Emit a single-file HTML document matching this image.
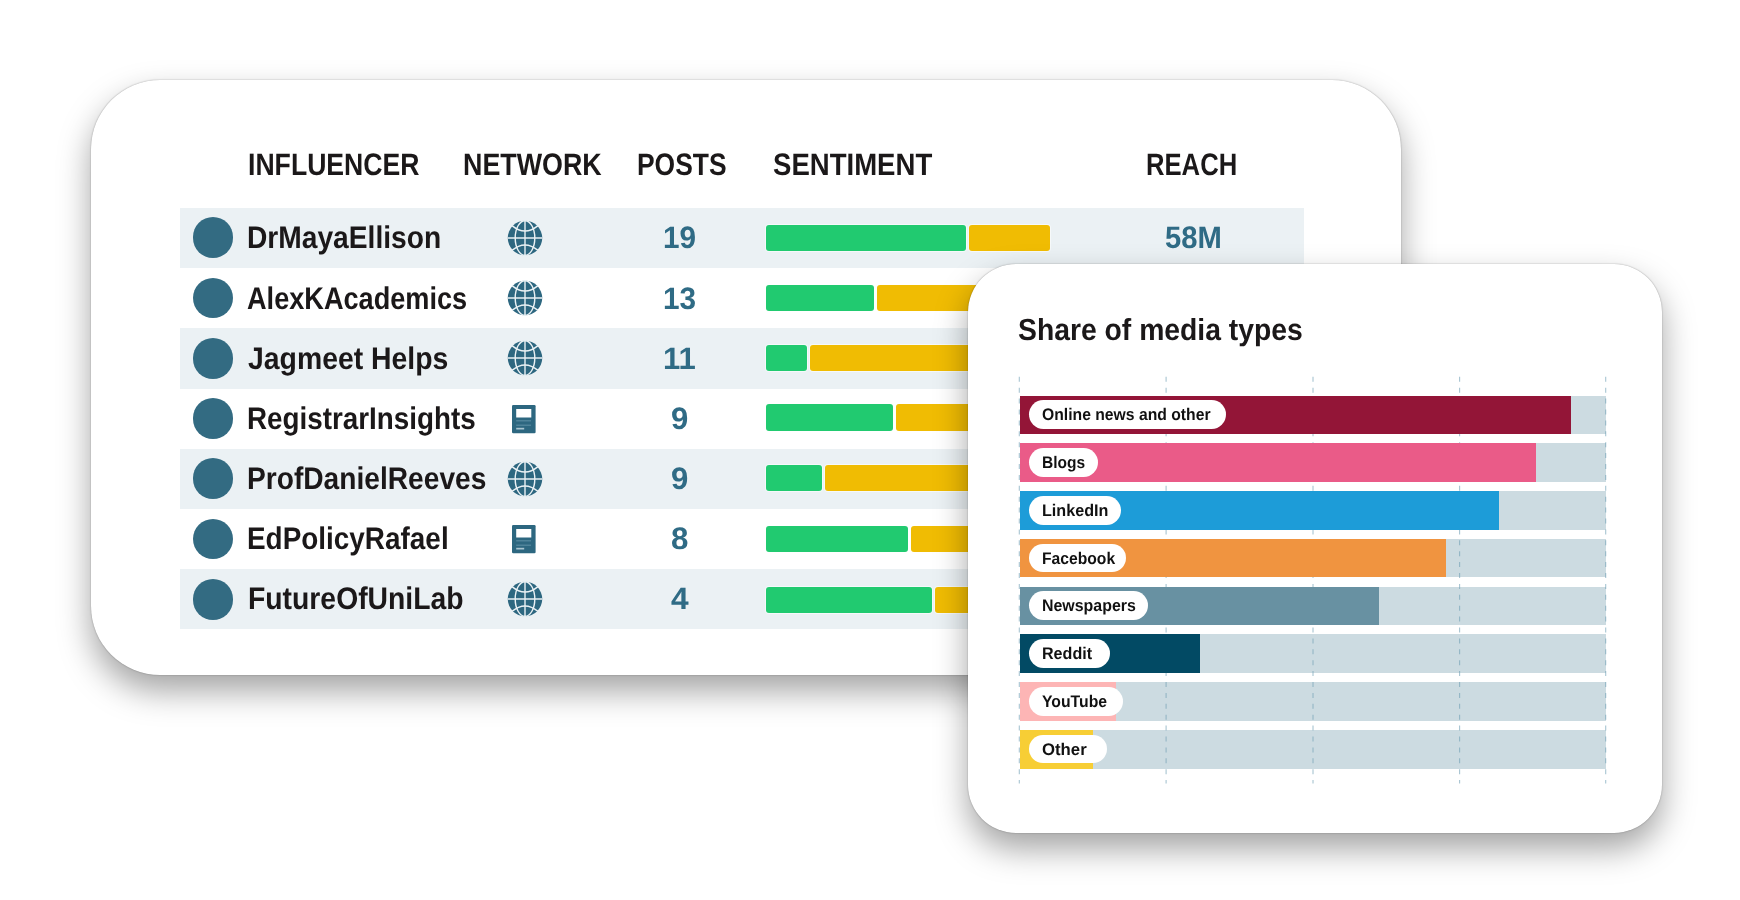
<!DOCTYPE html>
<html lang="en">
<head>
<meta charset="utf-8">
<title>Influencer dashboard</title>
<style>
html,body{margin:0;padding:0;background:#fff;}
body{width:1740px;height:900px;position:relative;overflow:hidden;font-family:"Liberation Sans", sans-serif;}
#txt{position:absolute;left:0;top:0;width:1740px;height:900px;will-change:transform;}
.t{position:absolute;white-space:nowrap;line-height:1;transform-origin:0 0;font-weight:700;text-rendering:geometricPrecision;}
.card{position:absolute;background:#fff;}
#c1{left:90.5px;top:79.9px;width:1310.4px;height:595.6px;border-radius:69px;box-shadow:0 16px 33px rgba(0,0,0,.36),0 0 1.5px rgba(0,0,0,.4);}
#c2{left:968px;top:264px;width:693.7px;height:568.9px;border-radius:48px;box-shadow:0 16px 33px rgba(0,0,0,.36),0 0 1.5px rgba(0,0,0,.4);}
.band{position:absolute;left:179.9px;width:1124.2px;height:60.4px;background:#ebf1f4;}
.dot{position:absolute;width:40.8px;height:40.8px;border-radius:50%;background:#336b82;left:192.7px;}
.sg,.sy{position:absolute;height:26.2px;border-radius:3px;box-shadow:0 0 0 1px rgba(255,255,255,.55);}
.sg{background:#21ca70;}.sy{background:#f0bc03;}
.track{position:absolute;left:1019.5px;width:586px;background:#ccdbe1;}
.bar{position:absolute;left:1019.5px;}
.pill{position:absolute;left:1028.8px;height:28.7px;border-radius:14.4px;background:#fff;}
svg{position:absolute;overflow:visible;}
</style>
</head>
<body>
<div class="card" id="c1"></div>
<div class="band" style="top:207.90px"></div>
<div class="band" style="top:328.30px"></div>
<div class="band" style="top:448.90px"></div>
<div class="band" style="top:568.75px"></div>
<div class="dot" style="top:217.1px"></div>
<div class="sg" style="left:766.2px;top:224.7px;width:199.4px"></div>
<div class="sy" style="left:968.8px;top:224.7px;width:80.9px"></div>
<div class="dot" style="top:277.5px"></div>
<div class="sg" style="left:766.2px;top:284.9px;width:107.8px"></div>
<div class="sy" style="left:877.2px;top:284.9px;width:172.5px"></div>
<div class="dot" style="top:337.9px"></div>
<div class="sg" style="left:766.2px;top:344.6px;width:40.5px"></div>
<div class="sy" style="left:809.9px;top:344.6px;width:239.8px"></div>
<div class="dot" style="top:398.1px"></div>
<div class="sg" style="left:766.2px;top:404.4px;width:126.8px"></div>
<div class="sy" style="left:896.2px;top:404.4px;width:153.5px"></div>
<div class="dot" style="top:458.4px"></div>
<div class="sg" style="left:766.2px;top:464.5px;width:55.8px"></div>
<div class="sy" style="left:825.2px;top:464.5px;width:224.5px"></div>
<div class="dot" style="top:518.6px"></div>
<div class="sg" style="left:766.2px;top:525.9px;width:141.8px"></div>
<div class="sy" style="left:911.2px;top:525.9px;width:138.5px"></div>
<div class="dot" style="top:578.8px"></div>
<div class="sg" style="left:766.2px;top:587.1px;width:165.8px"></div>
<div class="sy" style="left:935.2px;top:587.1px;width:114.5px"></div>
<svg width="40" height="40" viewBox="-20 -20 40 40" style="left:504.8px;top:218.0px"><circle r="17.25" fill="#2d6780"/><g fill="none" stroke="#eaf1f4" stroke-width="1.4"><line x1="0" y1="-17.2" x2="0" y2="17.2"/><line x1="-17.2" y1="0" x2="17.2" y2="0"/><ellipse rx="9.8" ry="17.3"/><path d="M-13 -12.4 Q0 -1.6 13 -12.4"/><path d="M-13 12.4 Q0 1.6 13 12.4"/></g></svg>
<svg width="40" height="40" viewBox="-20 -20 40 40" style="left:504.8px;top:278.2px"><circle r="17.25" fill="#2d6780"/><g fill="none" stroke="#eaf1f4" stroke-width="1.4"><line x1="0" y1="-17.2" x2="0" y2="17.2"/><line x1="-17.2" y1="0" x2="17.2" y2="0"/><ellipse rx="9.8" ry="17.3"/><path d="M-13 -12.4 Q0 -1.6 13 -12.4"/><path d="M-13 12.4 Q0 1.6 13 12.4"/></g></svg>
<svg width="40" height="40" viewBox="-20 -20 40 40" style="left:504.8px;top:338.4px"><circle r="17.25" fill="#2d6780"/><g fill="none" stroke="#eaf1f4" stroke-width="1.4"><line x1="0" y1="-17.2" x2="0" y2="17.2"/><line x1="-17.2" y1="0" x2="17.2" y2="0"/><ellipse rx="9.8" ry="17.3"/><path d="M-13 -12.4 Q0 -1.6 13 -12.4"/><path d="M-13 12.4 Q0 1.6 13 12.4"/></g></svg>
<svg width="25" height="30" viewBox="0 0 25 30" style="left:512.0px;top:404.6px"><rect x="0" y="0" width="23.6" height="28.2" rx="1.2" fill="#2d6780"/><rect x="4.2" y="4" width="15.1" height="8.5" fill="#fff"/><rect x="4.2" y="15.2" width="14.8" height="1.2" fill="#588aa0"/><rect x="4.2" y="19.6" width="14.8" height="1.2" fill="#588aa0"/><rect x="4.2" y="22.8" width="8" height="1.7" fill="#a9c4cf"/></svg>
<svg width="40" height="40" viewBox="-20 -20 40 40" style="left:504.8px;top:458.9px"><circle r="17.25" fill="#2d6780"/><g fill="none" stroke="#eaf1f4" stroke-width="1.4"><line x1="0" y1="-17.2" x2="0" y2="17.2"/><line x1="-17.2" y1="0" x2="17.2" y2="0"/><ellipse rx="9.8" ry="17.3"/><path d="M-13 -12.4 Q0 -1.6 13 -12.4"/><path d="M-13 12.4 Q0 1.6 13 12.4"/></g></svg>
<svg width="25" height="30" viewBox="0 0 25 30" style="left:512.0px;top:525.0px"><rect x="0" y="0" width="23.6" height="28.2" rx="1.2" fill="#2d6780"/><rect x="4.2" y="4" width="15.1" height="8.5" fill="#fff"/><rect x="4.2" y="15.2" width="14.8" height="1.2" fill="#588aa0"/><rect x="4.2" y="19.6" width="14.8" height="1.2" fill="#588aa0"/><rect x="4.2" y="22.8" width="8" height="1.7" fill="#a9c4cf"/></svg>
<svg width="40" height="40" viewBox="-20 -20 40 40" style="left:504.8px;top:579.3px"><circle r="17.25" fill="#2d6780"/><g fill="none" stroke="#eaf1f4" stroke-width="1.4"><line x1="0" y1="-17.2" x2="0" y2="17.2"/><line x1="-17.2" y1="0" x2="17.2" y2="0"/><ellipse rx="9.8" ry="17.3"/><path d="M-13 -12.4 Q0 -1.6 13 -12.4"/><path d="M-13 12.4 Q0 1.6 13 12.4"/></g></svg>
<div class="card" id="c2"></div>
<div class="track" style="top:395.5px;height:38.5px"></div>
<div class="track" style="top:443.3px;height:38.5px"></div>
<div class="track" style="top:491.1px;height:38.5px"></div>
<div class="track" style="top:538.8px;height:38.5px"></div>
<div class="track" style="top:586.6px;height:38.5px"></div>
<div class="track" style="top:634.4px;height:38.5px"></div>
<div class="track" style="top:682.2px;height:38.5px"></div>
<div class="track" style="top:730.0px;height:38.5px"></div>
<svg width="1740" height="900" style="left:0;top:0" viewBox="0 0 1740 900">
<line x1="1019.3" y1="376.8" x2="1019.3" y2="783.5" stroke="#6d9db2" stroke-opacity=".6" stroke-width="1.1" stroke-dasharray="5 5.9"/>
<line x1="1166.1" y1="376.8" x2="1166.1" y2="783.5" stroke="#6d9db2" stroke-opacity=".6" stroke-width="1.1" stroke-dasharray="5 5.9"/>
<line x1="1313.0" y1="376.8" x2="1313.0" y2="783.5" stroke="#6d9db2" stroke-opacity=".6" stroke-width="1.1" stroke-dasharray="5 5.9"/>
<line x1="1459.6" y1="376.8" x2="1459.6" y2="783.5" stroke="#6d9db2" stroke-opacity=".6" stroke-width="1.1" stroke-dasharray="5 5.9"/>
<line x1="1605.7" y1="376.8" x2="1605.7" y2="783.5" stroke="#6d9db2" stroke-opacity=".6" stroke-width="1.1" stroke-dasharray="5 5.9"/>
</svg>
<div class="bar" style="top:395.5px;height:38.5px;width:551.8px;background:#931537"></div>
<div class="pill" style="top:400.3px;width:197.5px"></div>
<div class="bar" style="top:443.3px;height:38.5px;width:516.4px;background:#ea5b88"></div>
<div class="pill" style="top:448.1px;width:68.9px"></div>
<div class="bar" style="top:491.1px;height:38.5px;width:479.1px;background:#1d9cd8"></div>
<div class="pill" style="top:495.9px;width:92.3px"></div>
<div class="bar" style="top:538.8px;height:38.5px;width:426.7px;background:#f09440"></div>
<div class="pill" style="top:543.6px;width:97.4px"></div>
<div class="bar" style="top:586.6px;height:38.5px;width:359.6px;background:#6891a2"></div>
<div class="pill" style="top:591.4px;width:119.5px"></div>
<div class="bar" style="top:634.4px;height:38.5px;width:180.1px;background:#024a64"></div>
<div class="pill" style="top:639.2px;width:80.9px"></div>
<div class="bar" style="top:682.2px;height:38.5px;width:96.3px;background:#fdb5b5"></div>
<div class="pill" style="top:687.0px;width:94.5px"></div>
<div class="bar" style="top:730.0px;height:38.5px;width:73.5px;background:#f7ce35"></div>
<div class="pill" style="top:734.8px;width:78.3px"></div>
<div id="txt">
<div class="t" id="h1" style="left:247.95px;top:149.40px;font-size:31px;color:#1b1819;transform:scaleX(0.8587)">INFLUENCER</div>
<div class="t" id="h2" style="left:462.83px;top:149.40px;font-size:31px;color:#1b1819;transform:scaleX(0.8659)">NETWORK</div>
<div class="t" id="h3" style="left:637.29px;top:149.40px;font-size:31px;color:#1b1819;transform:scaleX(0.8518)">POSTS</div>
<div class="t" id="h4" style="left:772.76px;top:149.40px;font-size:31px;color:#1b1819;transform:scaleX(0.8891)">SENTIMENT</div>
<div class="t" id="h5" style="left:1146.33px;top:149.40px;font-size:31px;color:#1b1819;transform:scaleX(0.8272)">REACH</div>
<div class="t" id="n0" style="left:247.41px;top:221.80px;font-size:31.3px;color:#1b1819;transform:scaleX(0.9000)">DrMayaEllison</div>
<div class="t" id="p0" style="left:662.62px;top:222.00px;font-size:31px;color:#2f6b85;transform:scaleX(0.9578)">19</div>
<div class="t" id="n1" style="left:246.81px;top:283.00px;font-size:31.3px;color:#1b1819;transform:scaleX(0.8670)">AlexKAcademics</div>
<div class="t" id="p1" style="left:662.62px;top:283.20px;font-size:31px;color:#2f6b85;transform:scaleX(0.9586)">13</div>
<div class="t" id="n2" style="left:248.02px;top:343.00px;font-size:31.3px;color:#1b1819;transform:scaleX(0.9068)">Jagmeet Helps</div>
<div class="t" id="p2" style="left:662.54px;top:343.20px;font-size:31px;color:#2f6b85;transform:scaleX(1.0019)">11</div>
<div class="t" id="n3" style="left:247.00px;top:403.00px;font-size:31.3px;color:#1b1819;transform:scaleX(0.8883)">RegistrarInsights</div>
<div class="t" id="p3" style="left:671.09px;top:403.20px;font-size:31px;color:#2f6b85;transform:scaleX(1.0030)">9</div>
<div class="t" id="n4" style="left:247.08px;top:463.00px;font-size:31.3px;color:#1b1819;transform:scaleX(0.8993)">ProfDanielReeves</div>
<div class="t" id="p4" style="left:671.09px;top:463.20px;font-size:31px;color:#2f6b85;transform:scaleX(1.0036)">9</div>
<div class="t" id="n5" style="left:247.26px;top:523.00px;font-size:31.3px;color:#1b1819;transform:scaleX(0.8917)">EdPolicyRafael</div>
<div class="t" id="p5" style="left:671.25px;top:523.20px;font-size:31px;color:#2f6b85;transform:scaleX(1.0094)">8</div>
<div class="t" id="n6" style="left:248.01px;top:583.00px;font-size:31.3px;color:#1b1819;transform:scaleX(0.9052)">FutureOfUniLab</div>
<div class="t" id="p6" style="left:671.00px;top:583.20px;font-size:31px;color:#2f6b85;transform:scaleX(1.0219)">4</div>
<div class="t" id="r0" style="left:1164.99px;top:222.20px;font-size:31px;color:#2f6b85;transform:scaleX(0.9419)">58M</div>
<div class="t" id="title" style="left:1017.82px;top:315.30px;font-size:30.5px;color:#1b1819;transform:scaleX(0.9283)">Share of media types</div>
<div class="t" id="l0" style="left:1042.14px;top:407.30px;font-size:16.8px;color:#111111;transform:scaleX(0.9364)">Online news and other</div>
<div class="t" id="l1" style="left:1041.78px;top:455.08px;font-size:16.8px;color:#111111;transform:scaleX(0.9246)">Blogs</div>
<div class="t" id="l2" style="left:1041.73px;top:502.86px;font-size:16.8px;color:#111111;transform:scaleX(0.9623)">LinkedIn</div>
<div class="t" id="l3" style="left:1041.75px;top:550.64px;font-size:16.8px;color:#111111;transform:scaleX(0.9333)">Facebook</div>
<div class="t" id="l4" style="left:1041.83px;top:598.42px;font-size:16.8px;color:#111111;transform:scaleX(0.9490)">Newspapers</div>
<div class="t" id="l5" style="left:1041.81px;top:646.20px;font-size:16.8px;color:#111111;transform:scaleX(0.9585)">Reddit</div>
<div class="t" id="l6" style="left:1041.80px;top:693.98px;font-size:16.8px;color:#111111;transform:scaleX(0.9399)">YouTube</div>
<div class="t" id="l7" style="left:1042.13px;top:741.76px;font-size:16.8px;color:#111111;transform:scaleX(0.9984)">Other</div>
</div>
</body>
</html>
